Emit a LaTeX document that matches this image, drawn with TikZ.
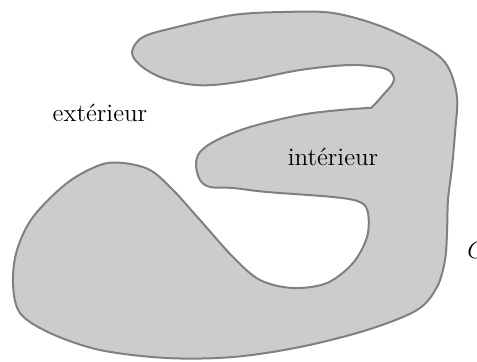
\documentclass[tikz,border=0pt]{standalone}
\usepackage{tikz}

\begin{document}
\begin{tikzpicture}[x=0.5pt, y=-0.5pt, font=\fontsize{12.5}{15}\selectfont]
  \tikzstyle{region}=[draw=black!50, fill=black!20, line width=1pt]
  \tikzstyle{lbl}=[inner sep=0pt]
  \useasboundingbox (0,0) rectangle (477,361);
  % the domain
  \draw[region] plot[smooth cycle, tension=0.55] coordinates {
    (132,52) (143,37) (177,27) (233,15) (283,12) (333,13) (383,27) (430,50)
    (448,67) (457,97) (455,133) (452,167) (448,200) (447,233) (445,260)
    (437,287) (417,310) (367,330) (300,347) (233,357) (167,358) (100,350)
    (50,333) (20,313) (13,283) (17,250) (33,217) (67,183) (100,165) (123,163)
    (150,170) (173,190) (200,220) (233,257) (260,280) (293,288) (327,283)
    (353,263) (367,237) (368,213) (360,202) (333,197) (267,192) (233,188)
    (210,187) (200,180) (196,165) (200,152) (217,140) (250,127) (300,115)
    (340,110) (367,108) (372,107) (383,95) (393,83) (393,75) (383,68)
    (350,65) (300,70) (250,80) (213,85) (187,84) (160,77) (140,65)};
  \node[lbl] (ext) at (100,113) {extérieur};
  \node[lbl] (int) at (333,157) {intérieur};
  \node[lbl, anchor=west] (curve) at (467,250) {$C$};
\end{tikzpicture}
\end{document}
